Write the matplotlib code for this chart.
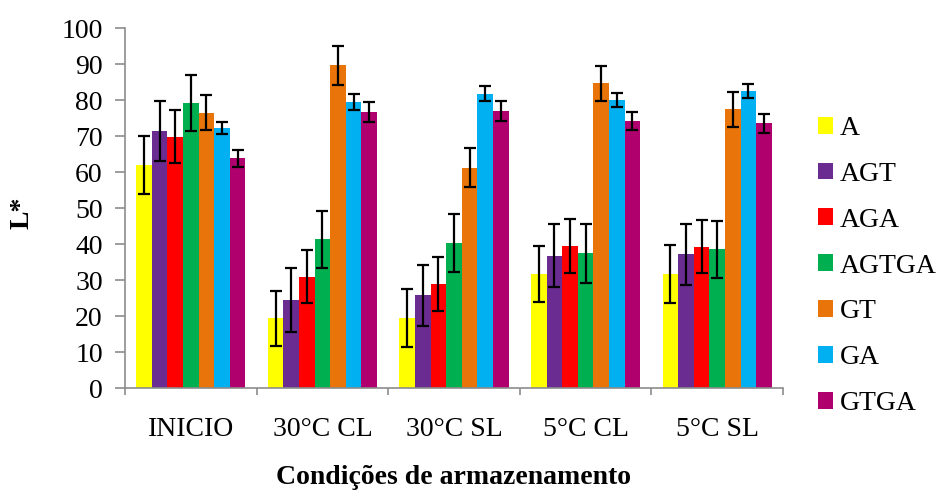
import numpy as np
import matplotlib
matplotlib.use("Agg")
import matplotlib.pyplot as plt

# condicoes de armazenamento e tratamentos
condicoes = ["INICIO", "30°C CL", "30°C SL", "5°C CL", "5°C SL"]
tratamentos = ["A", "AGT", "AGA", "AGTGA", "GT", "GA", "GTGA"]

# media de L* por tratamento (uma lista por tratamento, na ordem das condicoes)
L_A = [61.9, 19.4, 19.4, 31.6, 31.7]
L_AGT = [71.4, 24.4, 25.7, 36.8, 37.1]
L_AGA = [69.8, 30.9, 28.9, 39.5, 39.3]
L_AGTGA = [79.1, 41.3, 40.2, 37.4, 38.5]
L_GT = [76.5, 89.7, 61.2, 84.6, 77.4]
L_GA = [72.3, 79.5, 81.7, 80.0, 82.5]
L_GTGA = [63.8, 76.6, 77.0, 74.2, 73.5]

# desvio padrao
dp_A = [8.0, 7.6, 8.0, 7.8, 8.0]
dp_AGT = [8.4, 8.8, 8.6, 8.7, 8.4]
dp_AGA = [7.4, 7.4, 7.4, 7.5, 7.4]
dp_AGTGA = [7.8, 8.0, 8.1, 8.1, 7.9]
dp_GT = [4.8, 5.4, 5.4, 4.9, 4.9]
dp_GA = [1.7, 2.2, 2.1, 1.9, 1.9]
dp_GTGA = [2.3, 2.8, 2.7, 2.6, 2.6]

medias = [L_A, L_AGT, L_AGA, L_AGTGA, L_GT, L_GA, L_GTGA]
desvios = [dp_A, dp_AGT, dp_AGA, dp_AGTGA, dp_GT, dp_GA, dp_GTGA]
cores = ["#FFFF00", "#6A2C91", "#FF0000", "#00B050", "#E8740A", "#00B0F0", "#B0006E"]

plt.rcParams["font.family"] = ["Liberation Serif", "DejaVu Serif"]

fig = plt.figure(figsize=(9.4, 4.91), dpi=100)
ax = fig.add_axes([125/940, 1-388/491, 658/940, 360/491])

x = np.arange(len(condicoes))
larg = 0.83 / len(tratamentos)
for i in range(len(tratamentos)):
    pos = x - 0.415 + larg*(i + 0.5)
    ax.bar(pos, medias[i], larg, color=cores[i], label=tratamentos[i], zorder=2)
    ax.errorbar(pos, medias[i], yerr=desvios[i], fmt="none", ecolor="black",
                elinewidth=1.6, capsize=4, capthick=1.6, zorder=3)

ax.set_xlim(-0.5, len(condicoes) - 0.5)
ax.set_ylim(0, 100)
ax.set_yticks(np.arange(0, 101, 10))
ax.set_xticks(np.arange(len(condicoes) + 1) - 0.5)
ax.set_xticklabels([])
ax.set_xticks(x, minor=True)
ax.set_xticklabels(condicoes, minor=True)

cinza = "#8C8C8C"
for s in ["top", "right"]:
    ax.spines[s].set_visible(False)
for s in ["left", "bottom"]:
    ax.spines[s].set_color(cinza)
    ax.spines[s].set_linewidth(1.2)
ax.tick_params(axis="y", direction="out", length=7, width=1.2, color=cinza,
               labelsize=20, pad=9)
ax.tick_params(axis="x", which="major", direction="out", length=5, width=1.2, color=cinza)
ax.tick_params(axis="x", which="minor", length=0, labelsize=20, pad=21)

fig.text(22/940, 1-213/491, "L*", rotation=90, fontsize=20, fontweight="bold",
         ha="center", va="center")
fig.text(454/940, 1-477/491, "Condições de armazenamento", fontsize=20,
         fontweight="bold", ha="center", va="center")

ax.legend(loc="center left", bbox_to_anchor=(818/940, 1-266/491),
          bbox_transform=fig.transFigure, frameon=False, fontsize=20,
          handlelength=0.55, handleheight=0.55, handletextpad=0.25,
          labelspacing=0.75, borderpad=0, borderaxespad=0)

fig.savefig("out.png", dpi=100)
